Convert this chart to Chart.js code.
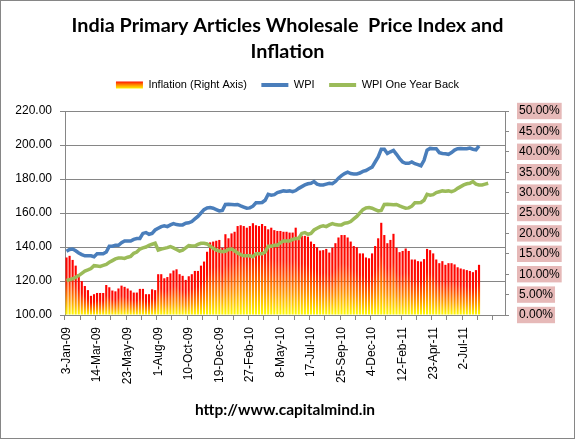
<!DOCTYPE html>
<html>
<head>
<meta charset="utf-8">
<script src="https://cdn.jsdelivr.net/npm/chart.js@4.4.0/dist/chart.umd.min.js"></script>
<style>
  body { margin: 0; background: #fff; }
  .frame { position: absolute; left: 0; top: 0; width: 573px; height: 437px; border: 1px solid #868686; }
</style>
</head>
<body>
<div class="frame"><canvas id="wpiChart" width="573" height="437"></canvas></div>
<script>
// weekly series, first week 3-Jan-09 (144 slots on the axis, last ones empty)
const firstWeek = Date.UTC(2009, 0, 3);
const slotCount = 144;

// Primary articles inflation, % yoy (right axis)
const inflation = [
  14.1, 14.5, 13.5, 12.1, 10, 8.3, 7.1, 6.1, 4.7, 5.1,
  5.4, 5.4, 5.4, 7.35, 6.8, 6.0, 5.8, 6.5, 7.2, 6.9,
  6.5, 6.0, 5.5, 5.5, 6.4, 6.4, 5.1, 5.1, 6.3, 6.1,
  10, 10, 9, 9.3, 10.2, 10.9, 11.2, 10, 9.6, 8.6,
  9.5, 10, 10.8, 10.8, 12.1, 13.1, 15.5, 17.8, 18, 18.2,
  18.4, 16.5, 19.8, 18.8, 20, 20.4, 21.8, 22, 21.8, 21.4,
  21.8, 22.5, 22, 21.8, 22.3, 21.8, 21, 21.4, 20.8, 20.6,
  20.6, 20.4, 20.4, 20.2, 20.2, 21.4, 19.2, 19.4, 19.4, 19.2,
  18, 17.4, 16.6, 15.8, 15.9, 16.2, 15.3, 16.5, 17.6, 19,
  19.6, 19.6, 19, 18, 16.9, 16.6, 15.1, 15.1, 14.1, 13.9,
  15.1, 16.9, 18.8, 22.6, 19.6, 17.6, 18.4, 19.9, 16.5, 15.4,
  15.7, 16.3, 15.7, 13.6, 13.6, 13.2, 13.1, 13.7, 16.2, 15.9,
  15.1, 13.6, 12.7, 13.2, 12.3, 12.7, 12.7, 12.4, 11.7, 11.4,
  11.2, 11, 10.8, 10.5, 11, 12.3
];

// WPI primary articles
const wpi = [
  137.5, 138.5, 138.8, 137.8, 136.5, 135.5, 134.8, 134.8, 134.8, 134.3,
  136, 136, 136, 137, 140.5, 140.5, 141, 141, 142.5, 143.5,
  143.5, 143.5, 144.5, 145, 145, 148, 148.5, 147.5, 148, 150,
  151, 152, 152.5, 152, 153, 153.8, 153.2, 153, 153, 154,
  154.2, 155, 156.5, 158, 160, 162, 163, 163.2, 162.8, 162,
  161.2, 161.5, 165, 165.2, 165, 164.8, 165, 164.2, 163.5, 162.8,
  163, 164, 166, 166, 166.2, 167.5, 171, 170.5, 170.8, 172,
  172.5, 173, 172.8, 173, 172.5, 173.2, 174.5, 175.5, 176.5, 177.2,
  177.5, 178.5, 177, 176.5, 176.5, 177, 177.5, 177.2, 178.5, 180.5,
  182, 183.2, 184, 183.2, 183, 183, 183.5, 184.5, 185, 186,
  187, 190, 193, 197.5, 197.5, 195, 196, 196.8, 194.5, 192,
  190, 189.2, 189.2, 190, 189, 188.5, 187.8, 191, 197, 198,
  197.8, 197.8, 195.5, 195, 194.8, 194.5, 195.5, 197, 197.8, 198,
  197.8, 197.8, 198.2, 197.5, 197.2, 199.5
];

// WPI one year back
const wpiYearBack = [
  120.3, 120.8, 121.3, 122.2, 123.2, 124.5, 125.8, 126.5, 127.3, 129,
  128.8, 128.6, 129.2, 129.8, 131, 132, 133, 133.5, 133.5, 133.3,
  134, 134.5, 136.3, 137, 138.8, 139.5, 140, 141, 141.6, 142.2,
  138.2, 138.8, 139.2, 139.6, 140.2, 139.5, 138.5, 137.6, 138.2, 139.5,
  140.8, 140.6, 140.6, 141.5, 142.2, 142.2, 141.8, 140.5, 139.2, 138.2,
  137.6, 137.2,
  137.5, 138.5, 138.8, 137.8, 136.5, 135.5, 134.8, 134.8,
  134.8, 134.3, 136, 136, 136, 137, 140.5, 140.5, 141, 141,
  142.5, 143.5, 143.5, 143.5, 144.5, 145, 145, 148, 148.5, 147.5,
  148, 150, 151, 152, 152.5, 152, 153, 153.8, 153.2, 153,
  153, 154, 154.2, 155, 156.5, 158, 160, 162, 163, 163.2,
  162.8, 162, 161.2, 161.5, 165, 165.2, 165, 164.8, 165, 164.2,
  163.5, 162.8, 163, 164, 166, 166, 166.2, 167.5, 171, 170.5,
  170.8, 172, 172.5, 173, 172.8, 173, 172.5, 173.2, 174.5, 175.5,
  176.5, 177.2, 177.5, 178.5, 177, 176.5, 176.5, 177, 177.5
];

const months = ['Jan', 'Feb', 'Mar', 'Apr', 'May', 'Jun', 'Jul', 'Aug', 'Sep', 'Oct', 'Nov', 'Dec'];
const weeks = [];
for (let i = 0; i < slotCount; i++) {
  if (i >= inflation.length) { weeks.push(''); continue; }
  const d = new Date(firstWeek + i * 7 * 86400000);
  weeks.push(d.getUTCDate() + '-' + months[d.getUTCMonth()] + '-' + String(d.getUTCFullYear()).slice(2));
}

const gridGrey = '#868686';
const tickFont = { family: 'Liberation Sans', size: 12 };

// red at the top of each bar fading to yellow at the base
function barFill(ctx) {
  const chart = ctx.chart;
  const area = chart.chartArea;
  if (!area || ctx.type !== 'data') return '#FF0000';
  const top = chart.scales.y2.getPixelForValue(ctx.raw);
  const g = chart.ctx.createLinearGradient(0, top, 0, area.bottom);
  g.addColorStop(0, '#FF0000');
  g.addColorStop(0.35, '#FF1000');
  g.addColorStop(0.72, '#FF9000');
  g.addColorStop(1, '#FFFF00');
  return g;
}

// axis title under the plot, centred on the plot area like the original
const footerText = {
  id: 'footerText',
  afterDraw(chart) {
    const c = chart.ctx;
    const a = chart.chartArea;
    c.save();
    c.font = 'bold 15.5px Lato';
    c.fillStyle = '#000';
    c.textAlign = 'center';
    c.textBaseline = 'middle';
    c.fillText('http://www.capitalmind.in', (a.left + a.right) / 2, 409);
    c.restore();
  }
};

const chart = new Chart(document.getElementById('wpiChart'), {
  type: 'bar',
  data: {
    labels: weeks,
    datasets: [
      {
        type: 'bar',
        label: 'Inflation (Right Axis)',
        data: inflation,
        yAxisID: 'y2',
        backgroundColor: barFill,
        barPercentage: 0.7,
        categoryPercentage: 1,
        order: 2
      },
      {
        type: 'line',
        label: 'WPI',
        data: wpi,
        yAxisID: 'y',
        borderColor: '#4A7EBB',
        borderWidth: 3.5,
        pointRadius: 0,
        order: 1
      },
      {
        type: 'line',
        label: 'WPI One Year Back',
        data: wpiYearBack,
        yAxisID: 'y',
        borderColor: '#9BBB59',
        borderWidth: 3.5,
        pointRadius: 0,
        order: 1
      }
    ]
  },
  options: {
    responsive: false,
    animation: false,
    layout: { padding: { left: 0, right: 0, top: 0, bottom: 53 } },
    plugins: {
      tooltip: { enabled: false },
      title: {
        display: true,
        text: ['India Primary Articles Wholesale  Price Index and', 'Inflation'],
        color: '#000',
        font: { family: 'Lato', size: 19.8, weight: 'bold', lineHeight: '26px' },
        padding: { top: 12, bottom: 0 }
      },
      // empty block used as a gap between the legend and the plot
      subtitle: {
        display: true,
        text: '',
        weight: 500,
        font: { size: 1, lineHeight: '10.5px' },
        padding: 0
      },
      legend: {
        labels: {
          usePointStyle: true,
          pointStyleWidth: 27,
          boxHeight: 7,
          padding: 14.5,
          color: '#000',
          font: { family: 'Liberation Sans', size: 11 },
          generateLabels(ch) {
            const lg = ch.legend;
            const mid = lg && lg.top !== undefined ? lg.top + 14.5 + 5.5 : 84;
            const g = ch.ctx.createLinearGradient(0, mid - 4, 0, mid + 4);
            g.addColorStop(0, '#FF0000');
            g.addColorStop(0.5, '#FF9000');
            g.addColorStop(1, '#FFFF00');
            return ch.data.datasets.map((ds, i) => ({
              text: ds.label,
              datasetIndex: i,
              hidden: false,
              pointStyle: i === 0 ? 'rect' : 'line',
              fillStyle: i === 0 ? g : ds.borderColor,
              strokeStyle: i === 0 ? 'rgba(0,0,0,0)' : ds.borderColor,
              lineWidth: i === 0 ? 0 : 4
            }));
          }
        }
      }
    },
    scales: {
      x: {
        offset: true,
        grid: {
          offset: true,
          drawOnChartArea: false,
          tickLength: 5,
          tickColor: ctx => (ctx.index % 5 === 0 ? gridGrey : 'rgba(0,0,0,0)')
        },
        border: { color: gridGrey },
        ticks: {
          autoSkip: false,
          minRotation: 90,
          maxRotation: 90,
          padding: 7,
          color: '#000',
          font: tickFont,
          callback: (v, i) => (i % 10 === 0 ? weeks[i] : '')
        },
        afterFit: s => { s.height = 70; }
      },
      y: {
        position: 'left',
        min: 100,
        max: 220,
        ticks: { stepSize: 20, padding: 8, color: '#000', font: tickFont, callback: v => v.toFixed(2) },
        grid: { color: gridGrey, tickLength: 5 },
        border: { color: gridGrey },
        afterFit: s => { s.width = 64; }
      },
      y2: {
        position: 'right',
        min: 0,
        max: 50,
        ticks: {
          stepSize: 5,
          padding: 10,
          color: '#000',
          font: tickFont,
          callback: v => v.toFixed(2) + '%',
          showLabelBackdrop: true,
          backdropColor: '#E6B9B8',
          backdropPadding: { top: 1, bottom: 1, left: 2, right: 2 }
        },
        grid: { drawOnChartArea: false, color: gridGrey, tickLength: 4 },
        border: { color: gridGrey },
        afterFit: s => { s.width = 69; }
      }
    }
  },
  plugins: [footerText]
});
</script>
</body>
</html>
